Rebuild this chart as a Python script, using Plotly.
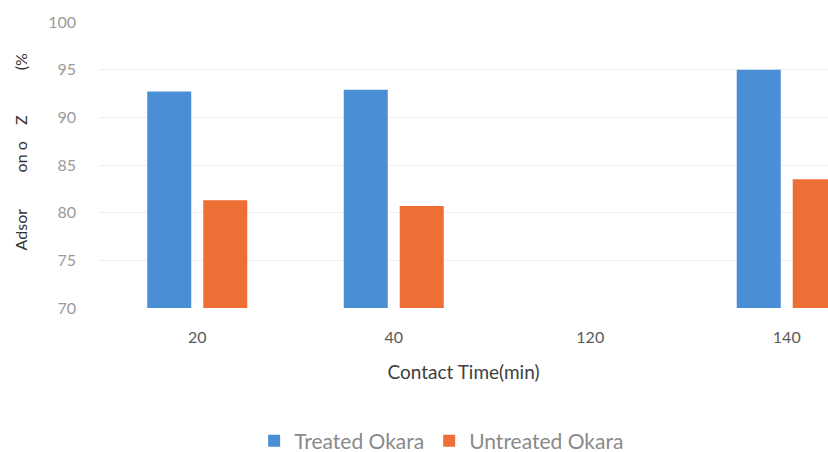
import plotly.graph_objects as go

# Contact time categories and adsorption percentages (120 min has no measurement)
contact_times = ["20", "40", "120", "140"]
treated_okara = [92.7, 92.9, None, 95.0]
untreated_okara = [81.3, 80.7, None, 83.5]
y_ticks = [70, 75, 80, 85, 90, 95, 100]

BLUE = "#4A8FD6"
ORANGE = "#EE6F35"
FONT = "Lato, 'Open Sans', sans-serif"

fig = go.Figure()
fig.add_trace(go.Bar(name="Treated Okara", x=contact_times, y=treated_okara,
                     marker=dict(color=BLUE, line=dict(width=0))))
fig.add_trace(go.Bar(name="Untreated Okara", x=contact_times, y=untreated_okara,
                     marker=dict(color=ORANGE, line=dict(width=0))))

nb = "\u00a0"
y_title = "Adsor" + nb * 9 + "on o" + nb * 4 + "Z" + nb * 11 + "(%"

fig.update_layout(
    width=828, height=452,
    margin=dict(l=99, r=0, t=22, b=144, autoexpand=False),
    paper_bgcolor="white", plot_bgcolor="white",
    barmode="group", bargap=0.43, bargroupgap=0.214,
    font=dict(family=FONT, color="#595959"),
    showlegend=True,
    legend=dict(orientation="h", x=0.47, xanchor="center", y=-0.465, yanchor="middle",
                font=dict(size=21, color="#8a8a8a"), itemwidth=30,
                traceorder="normal"),
    xaxis=dict(
        type="category", range=[-0.5, 3.21], automargin=False,
        showgrid=False, zeroline=False, showline=False,
        ticks="", ticklabelstandoff=18,
        tickfont=dict(size=16, color="#595959"),
        title=dict(text="Contact Time(min)", font=dict(size=19, color="#404040"), standoff=20),
    ),
    yaxis=dict(
        range=[70, 100], tickvals=y_ticks, automargin=False,
        showgrid=True, gridcolor="#efefef", gridwidth=1,
        zeroline=False, showline=False, ticks="", ticklabelstandoff=22,
        tickfont=dict(size=16, color="#9a9a9a"),
    ),
    annotations=[dict(
        text=y_title, textangle=-90, showarrow=False,
        xref="paper", yref="paper", x=-0.108, y=0.545,
        xanchor="center", yanchor="middle",
        font=dict(size=16, color="#333333", family=FONT),
    )],
)

fig.write_html("out.html")
